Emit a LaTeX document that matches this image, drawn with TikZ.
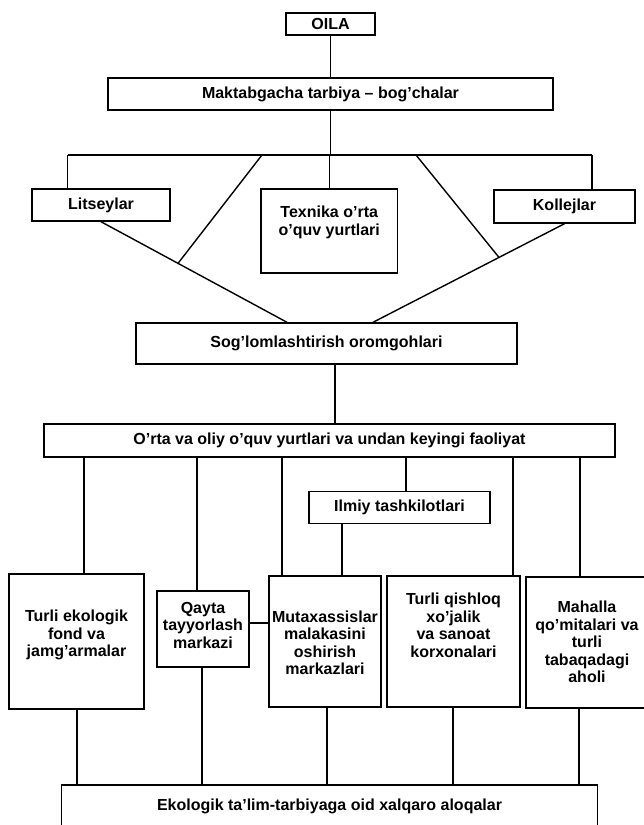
\documentclass[tikz,border=0pt]{standalone}
\usepackage{fontspec}
\setmainfont{Liberation Sans}
\usetikzlibrary{calc}
\tikzset{
  box/.style={draw, line width=1.4pt, inner sep=0pt, font=\bfseries\fontsize{16}{17.5}\selectfont, align=center},
  txt/.style={inner sep=0pt, font=\bfseries\fontsize{16}{17.5}\selectfont, align=center},
  con/.style={line width=1.4pt}
}
\begin{document}
\begin{tikzpicture}[x=1pt,y=-1pt]
\useasboundingbox (0,0) rectangle (643,825);
% boxes
\node[box, minimum width=89, minimum height=22] (oila) at (330.5,24) {OILA};
\node[box, minimum width=445, minimum height=32] (maktab) at (330.5,94) {Maktabgacha tarbiya -- bog'chalar};
\node[box, minimum width=138, minimum height=32] (lits) at (101,205) {Litseylar};
\node[box, minimum width=136.5, minimum height=84] (texn) at (329.25,231) {};
\node[txt] (texnT) at (329.25,222.5) {Texnika o'rta\\o'quv yurtlari};
\node[box, minimum width=141, minimum height=33] (koll) at (564.5,206.5) {Kollejlar};
\node[box, minimum width=381, minimum height=41] (sog) at (326.5,343.5) {Sog'lomlashtirish oromgohlari};
\node[box, minimum width=571, minimum height=33] (orta) at (329.5,440.5) {O'rta va oliy o'quv yurtlari va undan keyingi faoliyat};
\node[box, minimum width=181, minimum height=32] (ilmiy) at (399.5,507.5) {Ilmiy tashkilotlari};
\node[box, minimum width=135, minimum height=135] (ekol) at (76.5,641.5) {};
\node[txt] (ekolT) at (76.5,635) {Turli ekologik\\fond va\\jamg'armalar};
\node[box, minimum width=92, minimum height=76] (qayta) at (203,629) {};
\node[txt] (qaytaT) at (203,625) {Qayta\\tayyorlash\\markazi};
\node[box, minimum width=112, minimum height=131] (mutax) at (325,641.5) {};
\node[txt] (mutaxT) at (325,643) {Mutaxassislar\\malakasini\\oshirish\\markazlari};
\node[box, minimum width=133, minimum height=131] (qish) at (453.5,641.5) {};
\node[txt] (qishT) at (453.5,625.5) {Turli qishloq\\xo'jalik\\va sanoat\\korxonalari};
\node[box, minimum width=122, minimum height=131] (mah) at (587,642.5) {};
\node[txt] (mahT) at (587,642) {Mahalla\\qo'mitalari va\\turli\\tabaqadagi\\aholi};
\node[box, minimum width=536, minimum height=42] (eko) at (329.5,806) {Ekologik ta'lim-tarbiyaga oid xalqaro aloqalar};
% helper coordinates
\coordinate (barL) at (67.6,155);
\coordinate (barR) at (592,155);
\coordinate (d1) at (262,155);
\coordinate (d2) at (416,155);
\coordinate (sogL) at ($(sog.north)+(-39.5,0)$);
\coordinate (sogR) at ($(sog.north)+(46.5,0)$);
\coordinate (mL) at ($(lits.south)!0.414!(sogL)$);
\coordinate (mR) at ($(koll.south)!0.342!(sogR)$);
\coordinate (k1) at (335,0);
\coordinate (v1) at (84,0);
\coordinate (v2) at (197,0);
\coordinate (v3) at (282,0);
\coordinate (v4) at (406,0);
\coordinate (v5) at (513,0);
\coordinate (v6) at (580,0);
\coordinate (v7) at (342,0);
\coordinate (h1) at (0,623);
\coordinate (w1) at (77,0);
\coordinate (w2) at (202,0);
\coordinate (w3) at (327,0);
\coordinate (w4) at (453,0);
\coordinate (w5) at (579,0);
% connectors
\draw[con] (oila.south) -- (maktab.north);
\draw[con] (maktab.south) -- (maktab.south |- barL);
\draw[con] (barL) -- (barR);
\draw[con] (barL) -- (barL |- lits.north);
\draw[con] (barR) -- (barR |- koll.north);
\draw[con] (texn.north |- barL) -- (texn.north);
\draw[con] (d1) -- (mL);
\draw[con] (d2) -- (mR);
\draw[con] (lits.south) -- (mL) -- (sogL);
\draw[con] (koll.south) -- (mR) -- (sogR);
\draw[con] (sog.south -| k1) -- (orta.north -| k1);
\draw[con] (orta.south -| v1) -- (ekol.north -| v1);
\draw[con] (orta.south -| v2) -- (qayta.north -| v2);
\draw[con] (orta.south -| v3) -- (mutax.north -| v3);
\draw[con] (orta.south -| v4) -- (ilmiy.north -| v4);
\draw[con] (orta.south -| v5) -- (qish.north -| v5);
\draw[con] (orta.south -| v6) -- (mah.north -| v6);
\draw[con] (ilmiy.south -| v7) -- (mutax.north -| v7);
\draw[con] (qayta.east |- h1) -- (mutax.west |- h1);
\draw[con] (ekol.south -| w1) -- (eko.north -| w1);
\draw[con] (qayta.south -| w2) -- (eko.north -| w2);
\draw[con] (mutax.south -| w3) -- (eko.north -| w3);
\draw[con] (qish.south -| w4) -- (eko.north -| w4);
\draw[con] (mah.south -| w5) -- (eko.north -| w5);
\end{tikzpicture}
\end{document}
